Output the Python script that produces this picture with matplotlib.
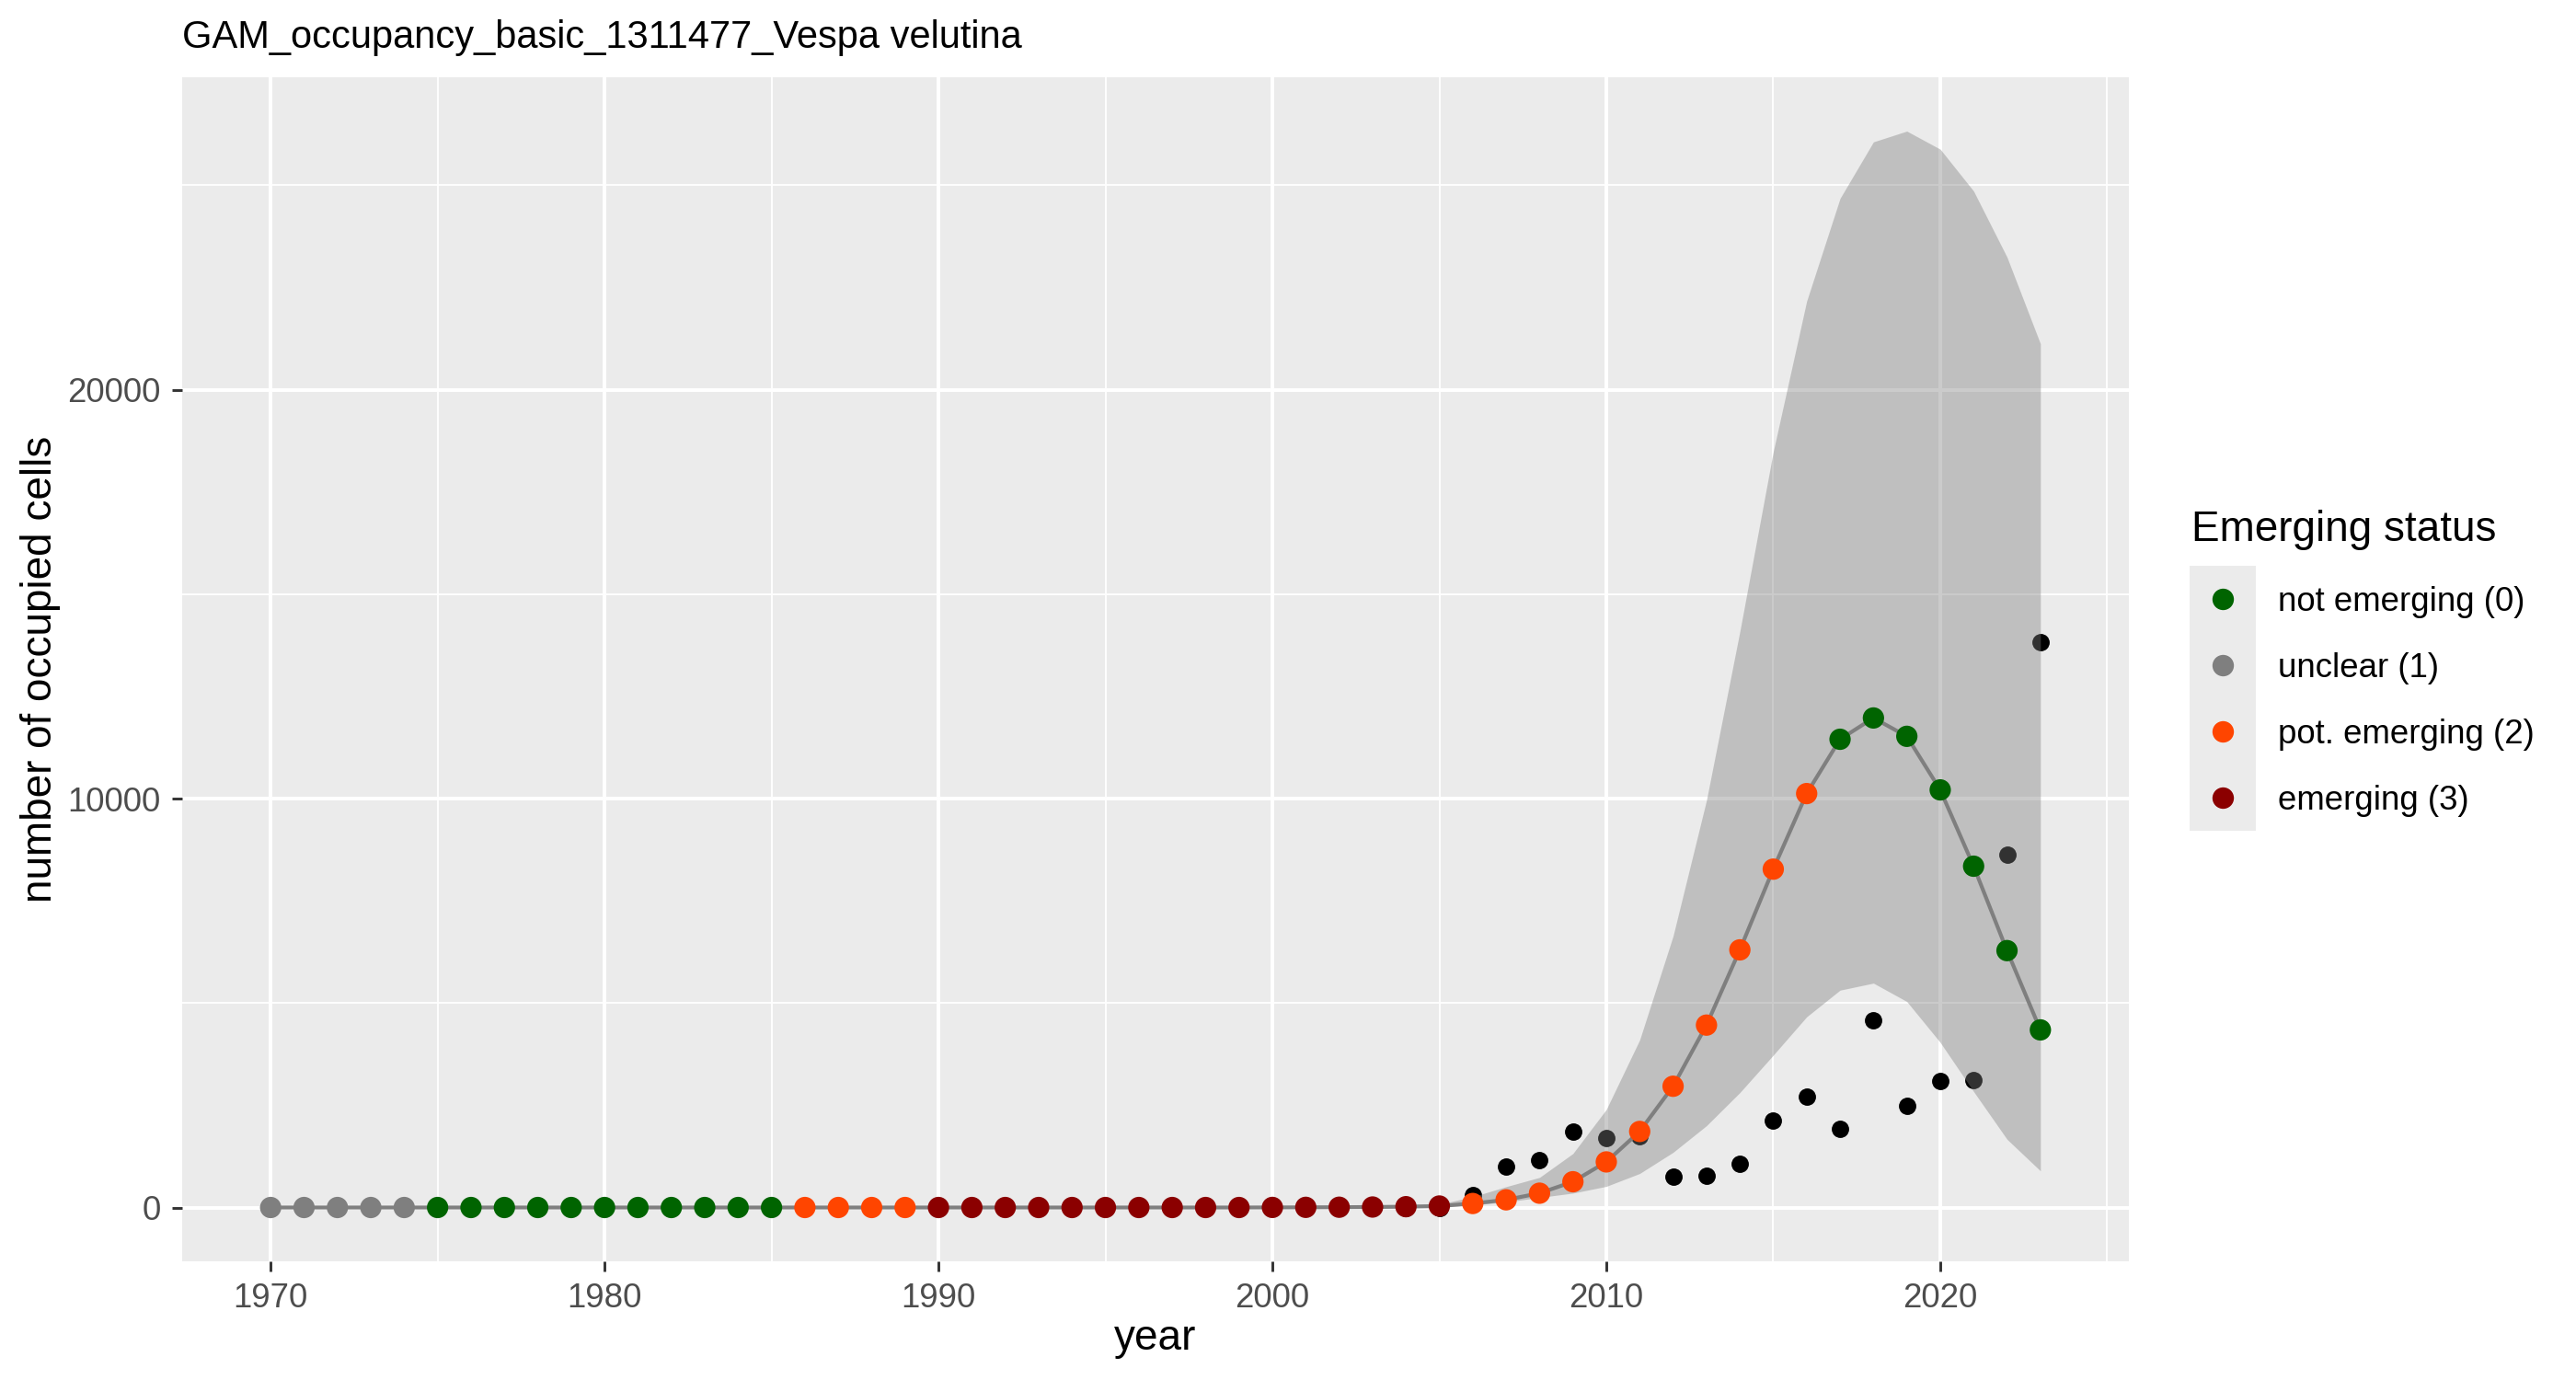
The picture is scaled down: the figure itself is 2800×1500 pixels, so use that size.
import numpy as np
import matplotlib.pyplot as plt
from matplotlib.patches import Rectangle
from matplotlib.lines import Line2D

plt.rcParams['font.family'] = ['Liberation Sans', 'DejaVu Sans']

years = list(range(1970, 2024))

# GAM fit (number of occupied cells) and its confidence band
fitted = [0] * 30 + [2, 4, 7, 12, 20, 36,
                     98, 188, 350, 630, 1115, 1860, 2965, 4460, 6300, 8274,
                     10122, 11450, 11971, 11522, 10212, 8346, 6282, 4343]
lower = [0] * 30 + [0, 1, 3, 6, 10, 18,
                    60, 135, 246, 352, 517, 832, 1349, 2001, 2811, 3726,
                    4663, 5315, 5487, 5037, 4038, 2836, 1669, 897]
upper = [0] * 30 + [4, 8, 14, 25, 45, 80,
                    263, 510, 736, 1320, 2399, 4100, 6640, 9960, 14089, 18486,
                    22165, 24677, 26059, 26322, 25880, 24856, 23241, 21123]

# observed occupancy
observed = [0] * 36 + [300, 1000, 1155, 1850, 1705, 1740, 748, 765, 1060, 2115,
                       2715, 1925, 4585, 2490, 3085, 3105, 8633, 13820]

# emerging status per year
status = [1] * 5 + [0] * 11 + [2] * 4 + [3] * 16 + [2] * 11 + [0] * 7

status_labels = ['not emerging (0)', 'unclear (1)', 'pot. emerging (2)', 'emerging (3)']
status_colors = ['#006400', '#7F7F7F', '#FF4500', '#8B0000']

W, H = 2800, 1500
fig = plt.figure(figsize=(W / 300, H / 300), dpi=300)
ax = fig.add_axes([198 / W, 1 - 1371 / H, (2314 - 198) / W, (1371 - 84) / H])
ax.set_facecolor('#EBEBEB')
for s in ax.spines.values():
    s.set_visible(False)

ax.scatter(years, observed, s=20.5, color='black', linewidths=0, zorder=2)
ax.fill_between(years, lower, upper, color='#7F7F7F', alpha=0.4, linewidth=0, zorder=3)
ax.plot(years, fitted, color='#7F7F7F', linewidth=1.0, zorder=4)
pt_colors = [status_colors[k] for k in status]
ax.scatter(years, fitted, s=31, c=pt_colors, linewidths=0, zorder=5)

ax.set_xlim(1967.35, 2025.65)
ax.set_ylim(-1316, 27638)
ax.set_xticks(range(1970, 2021, 10))
ax.set_xticks(range(1975, 2026, 10), minor=True)
ax.set_yticks([0, 10000, 20000])
ax.set_yticklabels(['0', '10000', '20000'])
ax.set_yticks([5000, 15000, 25000], minor=True)
ax.grid(which='major', color='white', linewidth=0.95)
ax.grid(which='minor', color='white', linewidth=0.45)
ax.set_axisbelow(True)
ax.tick_params(which='major', length=2.75, width=0.7, color='#333333',
               labelcolor='#4D4D4D', labelsize=8.8, pad=2.8)
ax.tick_params(which='minor', length=0)

fig.text(198 / W, 1 - 52 / H, 'GAM_occupancy_basic_1311477_Vespa velutina',
         fontsize=10, ha='left', va='baseline', color='black')
fig.text(1256 / W, 1 - 1467 / H, 'year', fontsize=11, ha='center', va='baseline')
fig.text(66 / W, 1 - 727.5 / H, 'number of occupied cells', fontsize=11,
         rotation=90, ha='right', va='center')

# legend
fig.text(2382 / W, 1 - 588 / H, 'Emerging status', fontsize=11, ha='left', va='baseline')
fig.add_artist(Rectangle((2380 / W, 1 - 903 / H), 72 / W, 288 / H,
                         transform=fig.transFigure, facecolor='#EBEBEB', edgecolor='none'))
for i, (lab, col) in enumerate(zip(status_labels, status_colors)):
    yc = 1 - (651 + 72 * i) / H
    fig.add_artist(Line2D([2416 / W], [yc], marker='o', markersize=5.6, color=col,
                          markeredgewidth=0, linestyle='none', transform=fig.transFigure))
    fig.text(2476 / W, yc, lab, fontsize=8.8, ha='left', va='center_baseline')

fig.savefig('out.png', dpi=300, facecolor='white')
